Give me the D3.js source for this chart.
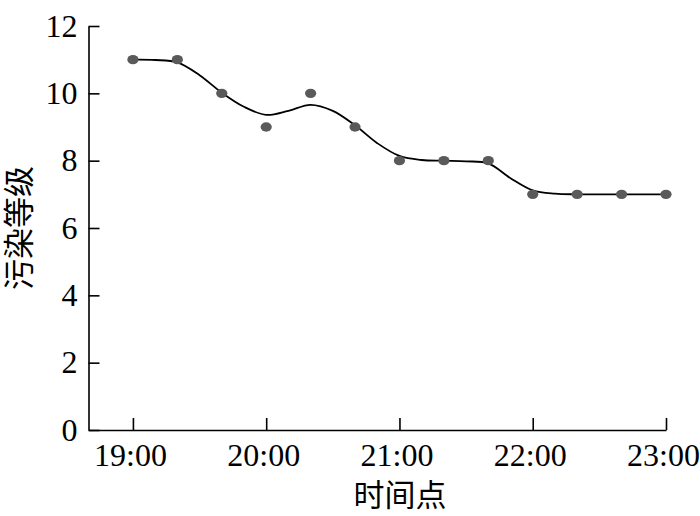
<!DOCTYPE html>
<html>
<head>
<meta charset="utf-8">
<script src="https://cdn.jsdelivr.net/npm/d3@7"></script>
<style>
  body { margin: 0; background: #fff; }
  svg text { font-family: "Liberation Serif", "DejaVu Serif", serif; fill: #000; }
  .cjk { font-family: "Noto Sans CJK SC", sans-serif; }
</style>
</head>
<body>
<svg id="chart" width="700" height="516"></svg>
<script>
// observed points, every 20 minutes
var times = ["19:00", "19:20", "19:40", "20:00", "20:20", "20:40", "21:00",
             "21:20", "21:40", "22:00", "22:20", "22:40", "23:00"];
var levels = [11, 11, 10, 9, 10, 9, 8, 8, 8, 7, 7, 7, 7];
// fitted curve, every 10 minutes
var trendTimes = ["19:00", "19:10", "19:20", "19:30", "19:40", "19:50", "20:00",
                  "20:10", "20:20", "20:30", "20:40", "20:50", "21:00", "21:10",
                  "21:20", "21:30", "21:40", "21:50", "22:00", "22:10", "22:20",
                  "22:40", "23:00"];
var trend = [11, 10.99, 10.92, 10.54, 10.02, 9.6, 9.36,
             9.48, 9.66, 9.48, 9.05, 8.52, 8.14, 8.02,
             8.0, 7.98, 7.92, 7.48, 7.12, 7.02, 7.0,
             7.0, 7.0];
var xTicks = ["19:00", "20:00", "21:00", "22:00", "23:00"];
var yTicks = [0, 2, 4, 6, 8, 10, 12];

function toMin(t) {
	var p = t.split(":");
	return (+p[0] - 19) * 60 + (+p[1]);
}

var svg = d3.select("#chart");

var x = d3.scaleLinear().domain([-20, 240]).range([88.5, 666]);
var y = d3.scaleLinear().domain([0, 12]).range([430, 26]);

// y axis, ticks pointing inward
var yAxis = svg.append("g")
	.attr("transform", "translate(88.5,0)")
	.call(d3.axisLeft(y).tickValues(yTicks).tickSizeInner(-11).tickSizeOuter(0).tickPadding(11));
yAxis.selectAll("text").style("font-size", "32px").attr("font-family", null);

// x axis
var xAxis = svg.append("g")
	.attr("transform", "translate(0,430)")
	.call(d3.axisBottom(x).tickValues(xTicks.map(toMin))
		.tickFormat(function(d, i) { return xTicks[i]; })
		.tickSizeInner(-12).tickSizeOuter(0).tickPadding(13));
xAxis.selectAll("text").style("font-size", "32px").attr("font-family", null)
	.attr("dx", -3);

svg.selectAll(".domain, .tick line").attr("stroke", "#000").attr("stroke-width", 1.6);

// fitted curve
var line = d3.line()
	.x(function(d, i) { return x(toMin(trendTimes[i])); })
	.y(function(d) { return y(d); })
	.curve(d3.curveCatmullRom.alpha(0.5));

svg.append("path")
	.datum(trend)
	.attr("d", line)
	.attr("fill", "none")
	.attr("stroke", "#000")
	.attr("stroke-width", 1.8);

// points
svg.selectAll("ellipse.pt")
	.data(levels)
	.enter().append("ellipse")
	.attr("class", "pt")
	.attr("cx", function(d, i) { return x(toMin(times[i])); })
	.attr("cy", function(d) { return y(d); })
	.attr("rx", 5.6)
	.attr("ry", 4.7)
	.attr("fill", "#5a5a5a");

// axis titles
svg.append("text")
	.attr("class", "cjk")
	.attr("x", 400)
	.attr("y", 506)
	.attr("text-anchor", "middle")
	.style("font-size", "31px")
	.text("时间点");

svg.append("text")
	.attr("class", "cjk")
	.attr("transform", "translate(30,228) rotate(-90)")
	.attr("text-anchor", "middle")
	.style("font-size", "31px")
	.text("污染等级");
</script>
</body>
</html>
